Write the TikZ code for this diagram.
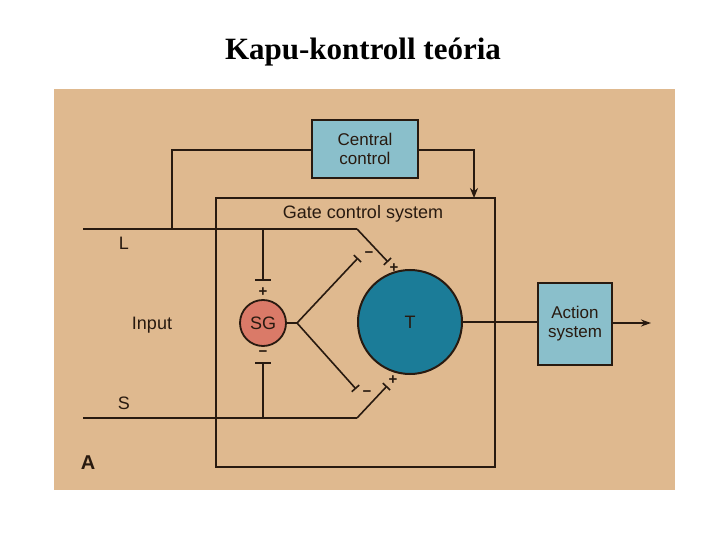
\documentclass[tikz,border=0pt]{standalone}
\usepackage{fontspec}
\setmainfont{Liberation Serif}
\newfontfamily\diagfont{Liberation Sans}
\usetikzlibrary{arrows.meta}
\definecolor{bgtan}{RGB}{223,185,143}
\definecolor{boxblue}{RGB}{138,191,203}
\definecolor{sgred}{RGB}{218,122,104}
\definecolor{tteal}{RGB}{27,124,152}
\definecolor{ink}{RGB}{40,26,16}
\tikzset{
  wire/.style={draw=ink, line width=1.8pt},
  thickwire/.style={draw=ink, line width=2.8pt},
  bluebox/.style={draw=ink, line width=2pt, fill=boxblue, font=\diagfont\fontsize{17}{19}\selectfont, align=center, inner sep=0pt, text=ink},
  lbl/.style={font=\diagfont\fontsize{18}{19}\selectfont, text=ink, inner sep=0pt},
  sgn/.style={font=\diagfont\bfseries\fontsize{15}{15}\selectfont, text=ink, inner sep=0pt},
  syn/.style={draw=ink, line width=1.6pt, -{Bar[width=10pt,line width=1.6pt]}},
}
\begin{document}
\begin{tikzpicture}[x=1pt,y=-1pt]
\useasboundingbox (0,0) rectangle (720,540);
\fill[white] (0,0) rectangle (720,540);
\node[font=\bfseries\fontsize{31}{34}\selectfont] (title) at (363,52) {Kapu-kontroll teória};
\fill[bgtan] (54,89) rectangle (675,490);

% gate control system box
\draw[wire, line width=2pt] (216,198) rectangle (495,467);
\node[lbl] (gcs) at (363,214) {Gate control system};

% central control
\node[bluebox, minimum width=106pt, minimum height=58pt] (cc) at (365,149) {Central\\control};
\coordinate (ccl) at (172,229);
\coordinate (ccr) at (474,198);
\draw[wire] (cc.west |- 0,150) -| (ccl);
\draw[wire, -{Stealth[length=10pt,width=8pt]}] (cc.east |- 0,150) -| (ccr);

% T and SG
\node[circle, draw=ink, line width=2pt, fill=tteal, minimum size=104pt, inner sep=0pt, lbl] (T) at (410,322) {T};
\node[circle, draw=ink, line width=1.8pt, fill=sgred, minimum size=46pt, inner sep=0pt, lbl] (SG) at (263,323) {SG};

% L and S lines
\coordinate (Lstart) at (83,229);
\coordinate (Lbend) at (357,229);
\coordinate (Lend) at (388,262);
\coordinate (Sstart) at (83,418);
\coordinate (Sbend) at (357,418);
\coordinate (Send) at (387,386);
\draw[thickwire] (Lstart) -- (Lbend);
\draw[syn] (Lbend) -- (Lend);
\draw[wire, line width=1.6pt] (Sstart) -- (Sbend);
\draw[syn] (Sbend) -- (Send);

% SG connections
\coordinate (sgtop) at (263,229);
\coordinate (sgtopbar) at (263,280);
\coordinate (sgbot) at (263,418);
\coordinate (sgbotbar) at (263,363);
\draw[wire, line width=1.7pt] (sgtop) -- (sgtopbar);
\draw[ink, line width=1.8pt] (255,280) -- (271,280);
\draw[wire, line width=1.7pt] (sgbot) -- (sgbotbar);
\draw[ink, line width=1.8pt] (255,363) -- (271,363);
\node[sgn] (sgp) at (263,292) {+};
\node[sgn] (sgm) at (263,354) {−};

\coordinate (junc) at (297,323);
\draw[wire, line width=1.6pt] (SG.east) -- (junc);
\coordinate (sgup) at (358,258);
\coordinate (sgdn) at (356,389);
\draw[syn] (junc) -- (sgup);
\draw[syn] (junc) -- (sgdn);

\node[sgn] (m1) at (369,255) {−};
\node[sgn] (p1) at (394,268) {+};
\node[sgn] (m2) at (367,394) {−};
\node[sgn] (p2) at (393,380) {+};

% action system
\node[bluebox, minimum width=74pt, minimum height=82pt] (as) at (575,324) {Action\\system};
\draw[wire, line width=1.6pt] (T.east) -- (as.west |- T.east);
\coordinate (out) at (651,323);
\draw[wire, line width=1.6pt, -{Stealth[length=10pt,width=7pt]}] (as.east |- out) -- (out);

% labels
\node[lbl] (L) at (124,243) {L};
\node[lbl] (inp) at (152,325) {Input};
\node[lbl] (S) at (124,403) {S};
\node[font=\diagfont\bfseries\fontsize{20}{20}\selectfont, text=ink, inner sep=0pt] (A) at (88,463) {A};
\end{tikzpicture}
\end{document}
